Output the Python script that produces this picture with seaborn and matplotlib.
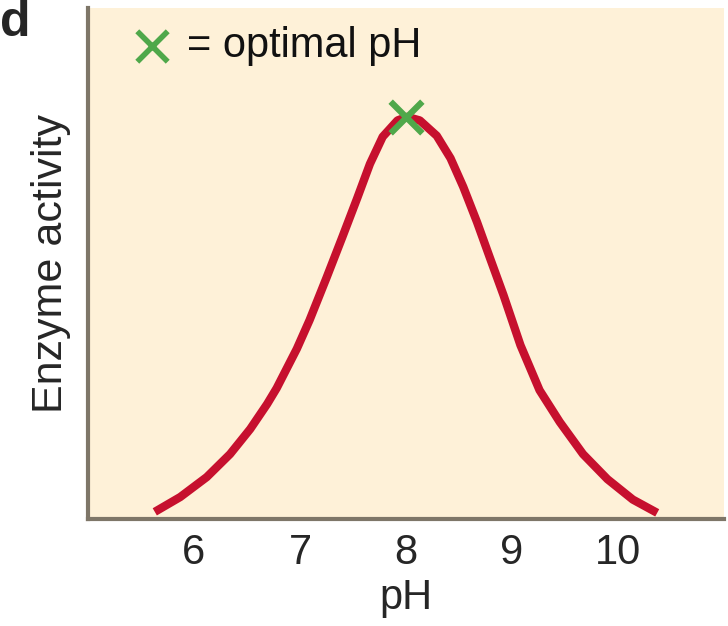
import matplotlib
matplotlib.use("Agg")
import matplotlib.pyplot as plt
import seaborn as sns
import pandas as pd

# Data
ph = [5.63, 5.87, 6.12, 6.34, 6.53, 6.69, 6.78, 6.97, 7.09, 7.25, 7.40, 7.54, 7.66,
      7.78, 7.92, 8.01, 8.13, 8.29, 8.42, 8.54, 8.67, 8.79, 8.92, 9.08, 9.26, 9.45,
      9.67, 9.90, 10.14, 10.37]
activity = [0.014, 0.043, 0.082, 0.127, 0.176, 0.225, 0.256, 0.333, 0.389, 0.472,
            0.552, 0.628, 0.695, 0.748, 0.780, 0.787, 0.780, 0.750, 0.706, 0.650,
            0.581, 0.512, 0.438, 0.340, 0.252, 0.190, 0.127, 0.078, 0.038, 0.012]
optimal_ph = [8.0]
optimal_activity = [0.787]
x_ticks = [6, 7, 8, 9, 10]
x_label = "pH"
y_label = "Enzyme activity"
legend_text = "= optimal pH"

sns.set_style("white")
plt.rcParams['font.family'] = ['Liberation Sans', 'DejaVu Sans']

fig = plt.figure(figsize=(7.28, 6.26), dpi=100)
ax = fig.add_axes([88/728, (626-519)/626, (724-88)/728, (519-8)/626])
ax.set_facecolor("#FEF1D8")

df = pd.DataFrame({"pH": ph, "activity": activity})
sns.lineplot(data=df, x="pH", y="activity", ax=ax, color="#C6102E", linewidth=6,
             solid_capstyle="butt", solid_joinstyle="round", sort=False)
sns.scatterplot(x=optimal_ph, y=optimal_activity, ax=ax, marker="x", s=520,
                color="#4FA84A", linewidth=4.5, zorder=5)

ax.set_xlim(5, 11)
ax.set_ylim(0, 1)
ax.set_xticks(x_ticks)
ax.set_xticklabels([str(t) for t in x_ticks])
ax.set_yticks([])
ax.tick_params(axis="x", length=0, labelsize=30, pad=10)
ax.set_xlabel(x_label, fontsize=30, labelpad=4)
ax.set_ylabel(y_label, fontsize=31, labelpad=12)

for side in ["top", "right"]:
    ax.spines[side].set_visible(False)
for side in ["left", "bottom"]:
    ax.spines[side].set_color("#7E7668")
    ax.spines[side].set_linewidth(3)

# legend-like annotation
ax.scatter([0.10], [0.926], transform=ax.transAxes, marker="x", s=480,
           color="#4FA84A", linewidths=4, zorder=5)
ax.text(0.155, 0.926, legend_text, transform=ax.transAxes, fontsize=30,
        va="center", ha="left", color="#111111")

fig.text(0.0, 1.0, "d", fontsize=36, fontweight="bold", va="top", ha="left")

fig.savefig("out.png", dpi=100)
